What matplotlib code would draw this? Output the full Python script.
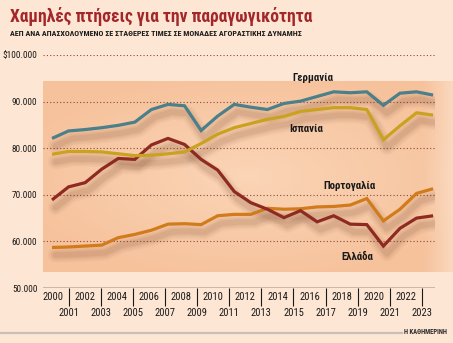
import numpy as np
import matplotlib
matplotlib.use("Agg")
import matplotlib.pyplot as plt
import matplotlib.transforms as mtrans
from matplotlib import font_manager as fm
from matplotlib.colors import to_rgb

# ---- data (GDP per person employed, constant PPP dollars) ----
years = list(range(2000, 2024))
germany = [82100, 83700, 84000, 84400, 84900, 85600, 88300, 89400, 89100, 83800,
           86900, 89400, 88800, 88300, 89600, 90100, 91100, 92100, 91900, 92100,
           89200, 91800, 92100, 91400]
spain = [78700, 79300, 79300, 79200, 78800, 78400, 78500, 78800, 79200, 81000,
         83000, 84400, 85300, 86200, 86800, 87900, 88300, 88700, 88700, 88300,
         81800, 84800, 87600, 87100]
portugal = [58700, 58800, 59000, 59200, 60800, 61500, 62400, 63700, 63800, 63600,
            65500, 65800, 65800, 67100, 66900, 67000, 67400, 67500, 67800, 69200,
            64400, 66900, 70300, 71300]
greece = [68900, 71700, 72600, 75500, 77800, 77600, 80700, 82100, 80800, 77600,
          75300, 70700, 68300, 66900, 65100, 66600, 64200, 65500, 63700, 63600,
          59000, 62800, 65000, 65500]

series_names = ["Γερμανία", "Ισπανία", "Πορτογαλία", "Ελλάδα"]
y_ticks = [50000, 60000, 70000, 80000, 90000, 100000]
y_tick_labels = ["50.000", "60.000", "70.000", "80.000", "90.000", "$100.000"]

title = "Χαμηλές πτήσεις για την παραγωγικότητα"
subtitle = "ΑΕΠ ΑΝΑ ΑΠΑΣΧΟΛΟΥΜΕΝΟ ΣΕ ΣΤΑΘΕΡΕΣ ΤΙΜΕΣ ΣΕ ΜΟΝΑΔΕΣ ΑΓΟΡΑΣΤΙΚΗΣ ΔΥΝΑΜΗΣ"
credit = "Η ΚΑΘΗΜΕΡΙΝΗ"


# ---- pick a narrow typeface if one is installed ----
def pick_narrow():
    entries = fm.fontManager.ttflist
    names = {f.name for f in entries}
    for n in ["Liberation Sans Narrow", "Roboto Condensed", "Open Sans Condensed",
              "Noto Sans Condensed", "DejaVu Sans Condensed", "Arial Narrow"]:
        if n in names:
            return n, "normal"
    for pref in ["DejaVu Sans", "Noto Sans", "Open Sans", "Roboto", "Liberation Sans"]:
        for f in entries:
            if f.name == pref and str(f.stretch) in ("condensed", "semi-condensed",
                                                    "extra-condensed", "75", "87"):
                return pref, f.stretch
    for f in entries:
        if "Narrow" in f.name or "Condensed" in f.name:
            return f.name, "normal"
    return "Liberation Sans", "normal"


FAM, STRETCH = pick_narrow()
FONT = dict(family=[FAM, "DejaVu Sans"], fontstretch=STRETCH)

# ---- styling ----
W, H = 453, 343
BG = "#fde6d3"
C_GER = "#4b7f89"
C_ESP = "#c9a21f"
C_POR = "#d17b1c"
C_GRE = "#8e2a22"
GRID = "#8a4a3a"
INK = "#1a1a1a"


def fx(x):
    return x / W


def fy(y):
    return 1 - y / H


fig = plt.figure(figsize=(W / 100, H / 100), dpi=100, facecolor=BG)
renderer = fig.canvas.get_renderer()


def size_for(s, width_px, weight="normal", cap=None):
    t = fig.text(0, 0, s, fontsize=10, fontweight=weight, **FONT)
    w = t.get_window_extent(renderer).width
    t.remove()
    size = 10 * width_px / w
    return min(size, cap) if cap else size


# shaded panel behind the lines
pl, pr, pt, pb = 43, 453, 81, 272
panel = fig.add_axes([fx(pl), fy(pb), fx(pr - pl), (pb - pt) / H], zorder=0)
panel.set_axis_off()
ny, nx = 120, 260
gx = np.linspace(-1, 1, nx)[None, :]
gy = np.linspace(-1, 1, ny)[:, None]
r = np.sqrt((gx * 0.85) ** 2 + (gy * 0.9) ** 2)
inner = np.array(to_rgb("#fbd5b6"))
outer = np.array(to_rgb("#f6c29c"))
t = np.clip(r, 0, 1)[..., None]
img = inner * (1 - t) + outer * t
fade = np.clip((np.linspace(0, 1, nx) - 0.93) / 0.07, 0, 1)[None, :, None]
img = img * (1 - fade * 0.6) + np.array(to_rgb(BG)) * fade * 0.6
panel.imshow(img, aspect="auto", extent=[0, 1, 0, 1], interpolation="bilinear")
panel.set_xlim(0, 1)
panel.set_ylim(0, 1)

# main data axes
al, ar, at, ab = 43, 435, 55, 288
ax = fig.add_axes([fx(al), fy(ab), fx(ar - al), (ab - at) / H], zorder=2)
ax.patch.set_alpha(0)
px_per_year = (433.1 - 52) / 23
ax.set_xlim(2000 - (52 - al) / px_per_year, 2023 + (ar - 433.1) / px_per_year)
ax.set_ylim(50000, 100000)

for v in y_ticks[1:]:
    ax.axhline(v, color=GRID, lw=0.8, ls=(0, (1, 2)), zorder=1)
ax.axhline(50000, color="black", lw=1.0, zorder=3)

for s in ax.spines.values():
    s.set_visible(False)
ax.set_xticks([])
ax.set_yticks(y_ticks)
tick_fs = size_for("$100.000", 34, cap=9.0)
ax.set_yticklabels(y_tick_labels, fontsize=tick_fs, color=INK, **FONT)
ax.tick_params(axis="y", length=0, pad=4)


def shadowed_line(vals, color):
    off = mtrans.offset_copy(ax.transData, fig=fig, x=2.5, y=-5.5, units="points")
    for lw, a in [(11, 0.04), (8.5, 0.05), (6, 0.06), (4, 0.07)]:
        ax.plot(years, vals, color="#6b3a22", lw=lw, alpha=a,
                solid_joinstyle="round", solid_capstyle="round",
                transform=off, zorder=4)
    ax.plot(years, vals, color=color, lw=2.3, solid_joinstyle="miter",
            solid_capstyle="butt", zorder=6)


shadowed_line(portugal, C_POR)
shadowed_line(greece, C_GRE)
shadowed_line(spain, C_ESP)
shadowed_line(germany, C_GER)

# series labels
label_fs = size_for("Πορτογαλία", 52, weight="bold", cap=8.5)
label_pos = [(313, 78), (306, 129), (349, 186), (357, 257)]
for name, (x, y) in zip(series_names, label_pos):
    fig.text(fx(x), fy(y), name, fontweight="bold", fontsize=label_fs,
             color=INK, ha="center", va="center", zorder=10, **FONT)

# year axis: even years on the upper row, odd years under tick marks
lab = fig.add_axes([fx(al), fy(ab), fx(ar - al), (ab - at) / H], zorder=3)
lab.patch.set_alpha(0)
lab_ppy = (421.7 - 53) / 23
lab.set_xlim(2000 - (53 - al) / lab_ppy, 2023 + (ar - 421.7) / lab_ppy)
lab.set_ylim(0, 1)
for s in lab.spines.values():
    s.set_visible(False)
lab.set_yticks([])
odd = [y for y in years if y % 2 == 1]
even = [y for y in years if y % 2 == 0]
year_fs = size_for("2000", 20.5, cap=8.6)
lab.set_xticks(odd)
lab.set_xticklabels([str(y) for y in odd], fontsize=year_fs, color=INK, **FONT)
lab.set_xticks(even, minor=True)
lab.set_xticklabels([str(y) for y in even], minor=True, fontsize=year_fs,
                    color=INK, **FONT)
lab.tick_params(axis="x", which="major", length=13, width=0.8, color=INK, pad=1.2)
lab.tick_params(axis="x", which="minor", length=0, pad=2.6)

# titles
title_fs = size_for(title, 304, weight="bold")
fig.text(fx(10), fy(17), title, fontweight="bold", fontsize=title_fs,
         color="#a3262a", ha="left", va="center", **FONT)
sub_fs = size_for(subtitle, 287, weight="bold")
fig.text(fx(10), fy(33.5), subtitle, fontweight="bold", fontsize=sub_fs,
         color=INK, ha="left", va="center", **FONT)

# footer rule and credit
fig.add_artist(plt.Line2D([0, fx(402)], [fy(332.5), fy(332.5)], color="#c9c0b8",
                          lw=1.6, transform=fig.transFigure))
credit_fs = size_for(credit, 43, weight="bold")
fig.text(fx(404), fy(332.5), credit, fontweight="bold", fontsize=credit_fs,
         color="#2a2a2a", ha="left", va="center", **FONT)

fig.savefig("out.png", dpi=100, facecolor=BG)
